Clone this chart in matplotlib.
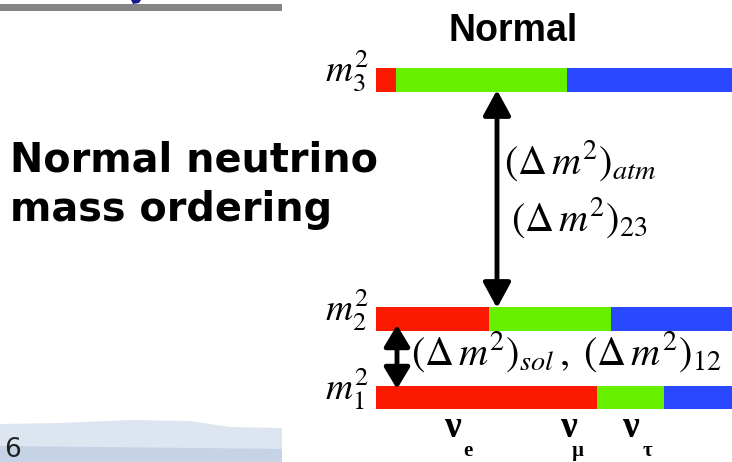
import matplotlib.pyplot as plt
from matplotlib.patches import Polygon
import numpy as np

plt.rcParams['mathtext.fontset'] = 'stix'

# flavour content of each mass state (nu_e, nu_mu, nu_tau)
states = ['m_1', 'm_2', 'm_3']
frac_e = [0.62, 0.317, 0.056]
frac_mu = [0.19, 0.343, 0.48]
frac_tau = [0.19, 0.34, 0.464]
flavour_colors = ['#fb1a00', '#66f000', '#2a48ff']
flavour_subs = ['e', 'µ', 'τ']

# pixel layout
bar_y = [397.5, 319, 80]
bar_h = 23.5
bar_x0 = 376
bar_len = 356

fig = plt.figure(figsize=(7.32, 4.62), dpi=100)
ax = fig.add_axes([0, 0, 1, 1])
ax.set_xlim(0, 732)
ax.set_ylim(462, 0)
ax.axis('off')

# slide decoration: grey rule on top, faint blue cloud at the bottom
ax.fill_between([0, 282], 3.5, 11, color='#858585', lw=0)
ax.add_patch(Polygon([[131, 0], [141, 0], [139, 3], [133, 4]], closed=True,
                     color='#1a1a8c', lw=0))
ax.add_patch(Polygon([[0, 424], [60, 423], [130, 420], [190, 421], [230, 427],
                      [282, 428], [282, 462], [0, 462]], closed=True,
                     color='#dde5f0', lw=0))
ax.add_patch(Polygon([[0, 446], [100, 447], [200, 448], [282, 449],
                      [282, 462], [0, 462]], closed=True,
                     color='#c6d3e6', lw=0))
ax.text(4, 457, '6', fontsize=19, family='DejaVu Sans', va='baseline',
        ha='left', color='#222222')

# stacked flavour bars
left = np.zeros(3)
for frac, col in zip([frac_e, frac_mu, frac_tau], flavour_colors):
    w = np.array(frac) * bar_len
    ax.barh(bar_y, w, height=bar_h, left=bar_x0 + left, color=col, lw=0)
    left += w

# mass labels
for lab, y in zip(states, bar_y):
    ax.text(369, y + 2, r'$%s^2$' % lab, fontsize=27, ha='right', va='baseline')

ax.text(513, 41, 'Normal', fontsize=27, fontweight='bold', ha='center',
        va='baseline', family='Liberation Sans')
ax.text(10, 172, 'Normal neutrino', fontsize=28.6, fontweight='bold',
        ha='left', va='baseline', family='DejaVu Sans')
ax.text(10, 221, 'mass ordering', fontsize=28.6, fontweight='bold',
        ha='left', va='baseline', family='DejaVu Sans')

# mass splittings
ax.annotate('', xy=(497, 90), xytext=(497, 308),
            arrowprops=dict(arrowstyle='<|-|>,head_length=0.55,head_width=0.3',
                            mutation_scale=28, lw=3.5, color='black',
                            shrinkA=0, shrinkB=0))
ax.annotate('', xy=(397, 325), xytext=(397, 389),
            arrowprops=dict(arrowstyle='<|-|>,head_length=0.5,head_width=0.3',
                            mutation_scale=26, lw=3.5, color='black',
                            shrinkA=0, shrinkB=0))
ax.text(504, 174, r'$(\Delta\, m^2)_{atm}$', fontsize=29, ha='left',
        va='baseline')
ax.text(511, 231, r'$(\Delta\, m^2)_{23}$', fontsize=29, ha='left',
        va='baseline')
ax.text(411, 365, r'$(\Delta\, m^2)_{sol}\,,\;(\Delta\, m^2)_{12}$',
        fontsize=29, ha='left', va='baseline')

# flavour labels under the bottom bar
nu_x = [452, 568, 630]
sub_x = [468, 578, 647]
for x, sx, s in zip(nu_x, sub_x, flavour_subs):
    ax.text(x, 437, 'ν', fontsize=27, ha='center', va='baseline',
            family='Liberation Serif', fontweight='bold')
    ax.text(sx, 456, s, fontsize=15, ha='center', va='baseline',
            family='Liberation Serif', fontweight='bold')

fig.savefig('out.png', dpi=100)
